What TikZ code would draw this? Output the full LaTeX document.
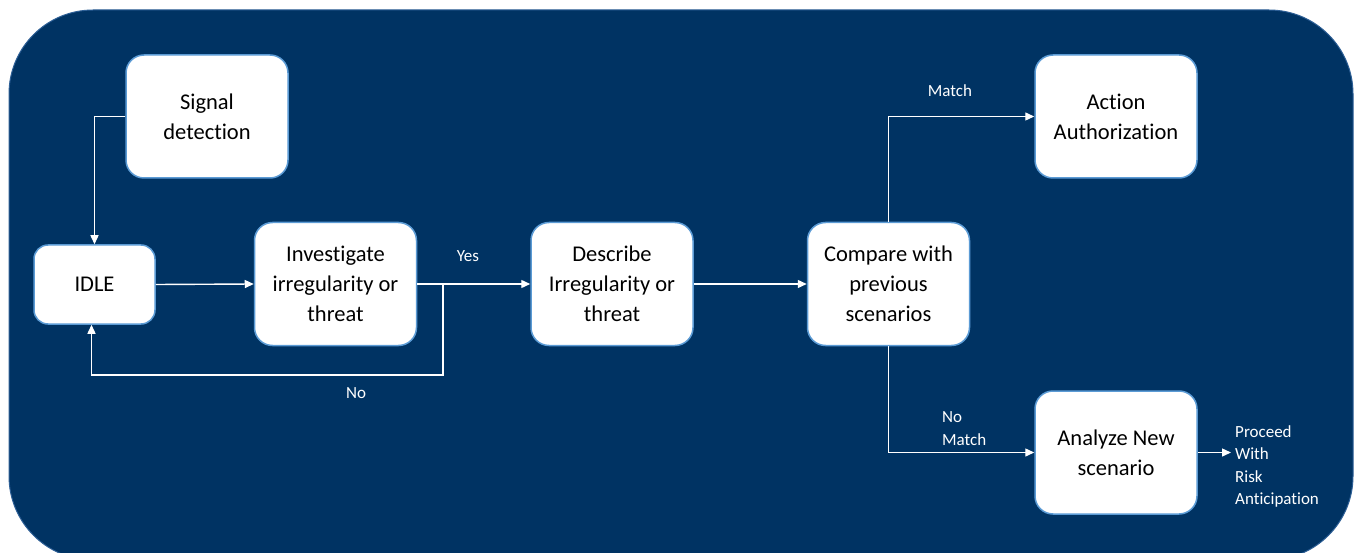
\documentclass[tikz,border=0pt]{standalone}
\usepackage{fontspec}
\setmainfont{Carlito}[Ligatures={NoCommon}]
\usetikzlibrary{arrows.meta}
\definecolor{navy}{RGB}{0,51,99}
\definecolor{navyedge}{RGB}{45,95,150}
\definecolor{boxedge}{RGB}{91,155,213}
\tikzset{
  box/.style={draw=boxedge, line width=1.5pt, fill=white, rounded corners=18pt,
    minimum width=162pt, minimum height=123pt, align=center, inner sep=2pt,
    font=\fontsize{22.5}{30}\selectfont, text=black},
  smallbox/.style={box, minimum width=121pt, minimum height=79pt, rounded corners=14pt},
  flow/.style={draw=white, line width=1.4pt, -{Triangle[length=9pt,width=8pt]}},
  lbl/.style={text=white, font=\fontsize{17}{22.5}\selectfont, inner sep=0pt}
}
\begin{document}
\begin{tikzpicture}[x=1pt,y=-1pt]
  \useasboundingbox (0,0) rectangle (1357,553);
  % panel
  \fill[white] (0,0) rectangle (1357,553);
  \draw[navyedge, fill=navy, line width=1pt, rounded corners=84pt] (9,10) rectangle (1353,560);

  % steps
  \node[box] (sig) at (207,116.5) {Signal\\detection};
  \node[smallbox] (idle) at (94.5,284.5) {IDLE};
  \node[box] (inv) at (335.5,284) {Investigate\\irregularity or\\threat};
  \node[box] (desc) at (612,284) {Describe\\Irregularity or\\threat};
  \node[box] (cmp) at (888.5,284) {Compare with\\previous\\scenarios};
  \node[box] (act) at (1116,116.5) {Action\\Authorization};
  \node[box] (ana) at (1116,452.5) {Analyze New\\scenario};

  % connectors
  \draw[flow] (sig.west) -| (idle.north);
  \draw[flow] (idle.east) -- (inv.west);
  \draw[flow] (inv.east) -- (desc.west);
  \coordinate (split) at (443,284);
  \coordinate (loopcorner) at (443,375);
  \draw[flow] (split) -- (loopcorner) -| ([xshift=-3pt]idle.south);
  \draw[flow] (desc.east) -- (cmp.west);
  \draw[flow] (cmp.north) |- (act.west);
  \draw[flow] (cmp.south) |- (ana.west);
  \coordinate (out) at (1231,452.5);
  \draw[flow] (ana.east) -- (out);

  % labels
  \node[lbl] (yes) at (468,256) {Yes};
  \node[lbl] (no) at (356,393) {No};
  \node[lbl] (match) at (950,91) {Match};
  \node[lbl, anchor=west, align=left] (nomatch) at (942,428.5) {No\\Match};
  \node[lbl, anchor=west, align=left] (proceed) at (1235,466.5) {Proceed\\With\\Risk\\Anticipation};
\end{tikzpicture}
\end{document}
